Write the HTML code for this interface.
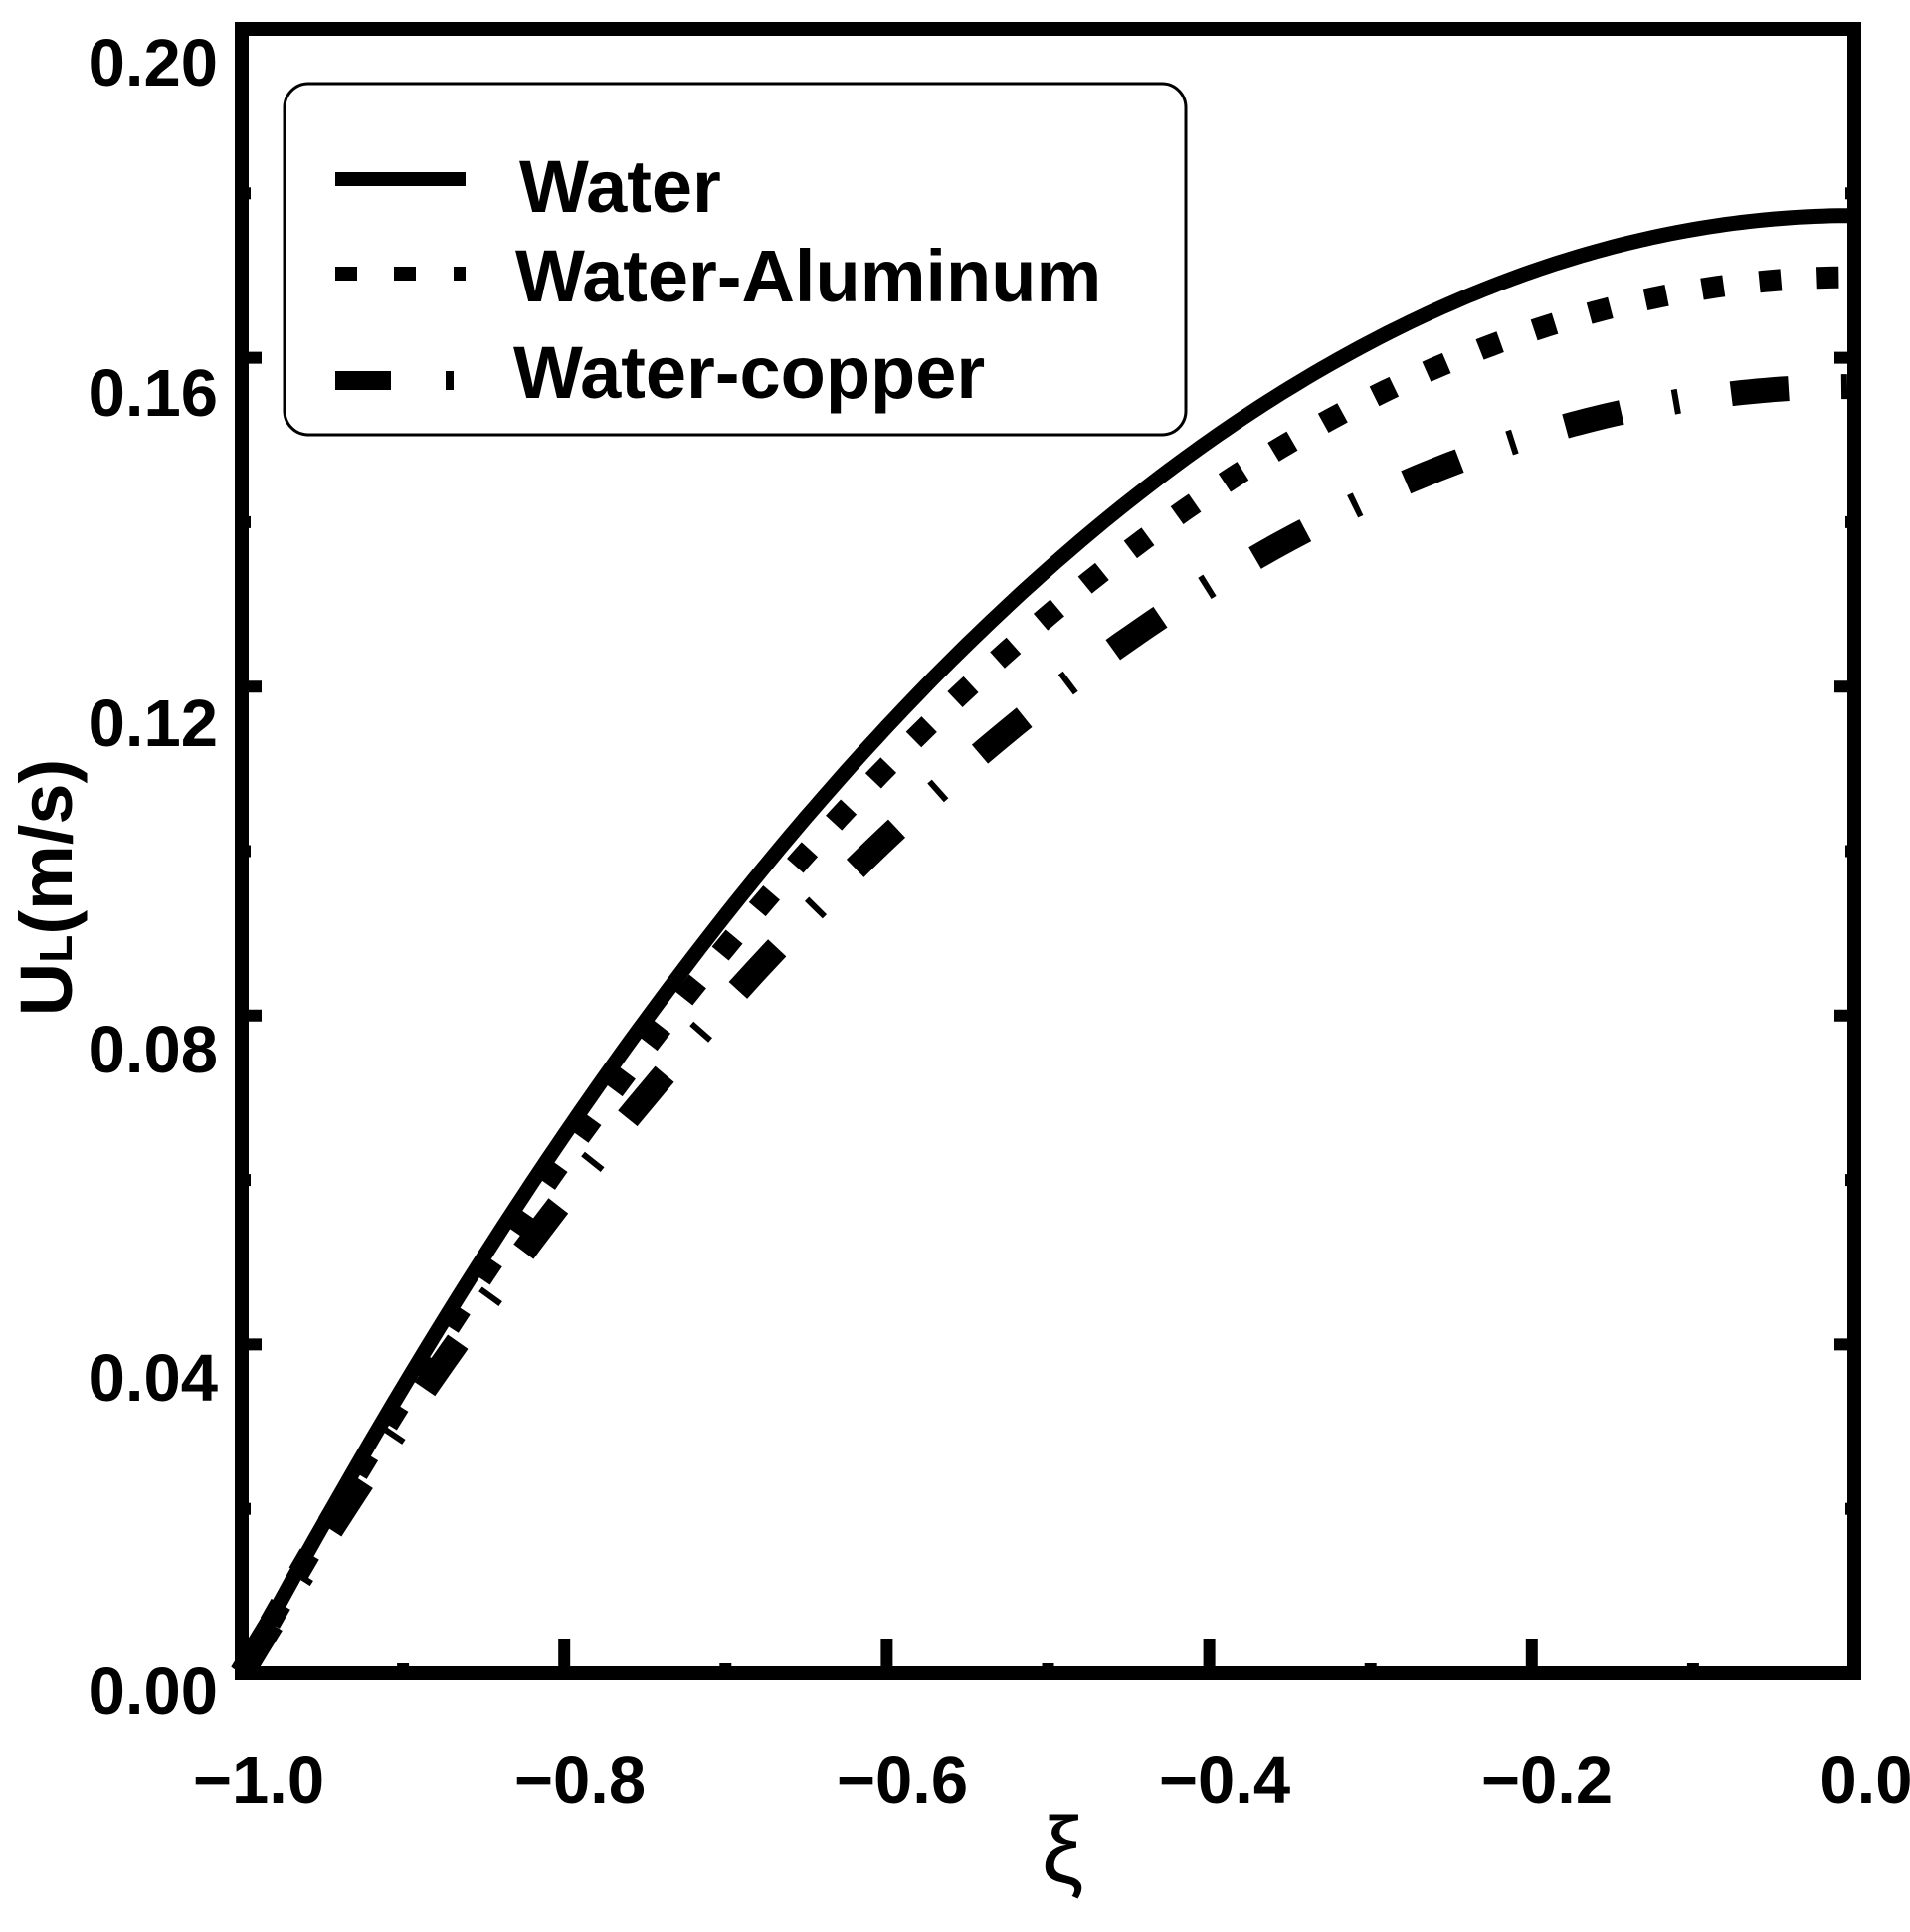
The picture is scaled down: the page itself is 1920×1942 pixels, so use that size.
<!DOCTYPE html>
<html><head><meta charset="utf-8"><style>
html,body{margin:0;padding:0;background:#fff;}
svg{display:block;}
text{font-family:"Liberation Sans",Arial,sans-serif;font-weight:bold;fill:#000;}
</style></head><body>
<svg id="s" width="1920" height="1942" viewBox="0 0 1920 1942" xmlns="http://www.w3.org/2000/svg">
<g id="ticks"></g>
<g id="curves" fill="none" stroke="#000"></g>
<rect x="243" y="29" width="1621" height="1653" fill="none" stroke="#000" stroke-width="14"/>
<rect x="286" y="84" width="906" height="353" rx="24" ry="24" fill="#fff" stroke="#000" stroke-width="3"/>
<line x1="337" y1="180" x2="468" y2="180" stroke="#000" stroke-width="14"/>
<rect x="337" y="268" width="22" height="14"/><rect x="396" y="268" width="22" height="14"/><rect x="456" y="268" width="12" height="14"/>
<rect x="337" y="373" width="56" height="19"/><rect x="448" y="373" width="8" height="19"/>
<text x="522" y="213" font-size="74">Water</text>
<text x="518" y="303" font-size="74">Water-Aluminum</text>
<text x="516" y="400" font-size="74">Water-copper</text>
<g font-size="67" text-anchor="end">
<text x="219" y="86">0.20</text>
<text x="219" y="418">0.16</text>
<text x="219" y="750">0.12</text>
<text x="219" y="1078">0.08</text>
<text x="219" y="1408">0.04</text>
<text x="219" y="1723">0.00</text>
</g>
<g font-size="67" text-anchor="middle">
<text x="260" y="1812">−1.0</text>
<text x="583" y="1812">−0.8</text>
<text x="907" y="1812">−0.6</text>
<text x="1231" y="1812">−0.4</text>
<text x="1555" y="1812">−0.2</text>
<text x="1876" y="1812">0.0</text>
</g>
<text x="1068" y="1892" font-size="95" text-anchor="middle" style="font-weight:normal">ξ</text>
<text transform="translate(72,892) rotate(-90)" font-size="74" text-anchor="middle">U<tspan font-size="46">L</tspan>(m/s)</text>
</svg>
<script>
(function(){
var NS="http://www.w3.org/2000/svg";
function X(x){return 243+(x+1)*1621;}
function Y(u){return 1682-u/0.2*1653;}
var t=document.getElementById("ticks"),c=document.getElementById("curves");
function ln(x1,y1,x2,y2,w,p){var l=document.createElementNS(NS,"line");l.setAttribute("x1",x1);l.setAttribute("y1",y1);l.setAttribute("x2",x2);l.setAttribute("y2",y2);l.setAttribute("stroke","#000");l.setAttribute("stroke-width",w);p.appendChild(l);}
for(var i=0;i<=10;i++){var x=X(-1+i*0.1),L=(i%2==0)?35:10;ln(x,1682,x,1682-L,12,t);}
for(var j=0;j<=10;j++){var y=Y(j*0.02),L2=(j%2==0)?20:9;ln(243,y,243+L2,y,12,t);ln(1864,y,1864-L2,y,12,t);}
function curve(U,M,w,dash){var d="";var cm=Math.cosh(M);for(var k=0;k<=200;k++){var xi=-1+k/200;var f=(cm-Math.cosh(M*xi))/(cm-1);d+=(k?"L":"M")+X(xi).toFixed(1)+","+Y(U*f).toFixed(1);}
var p=document.createElementNS(NS,"path");p.setAttribute("d",d);p.setAttribute("stroke-width",w);if(dash)p.setAttribute("stroke-dasharray",dash);c.appendChild(p);}
curve(0.1773,0.7,15,null);
curve(0.1698,0.7,22,"22 36");
curve(0.1565,0.7,25,"58 53 6 53");
})();
</script>
</body></html>
